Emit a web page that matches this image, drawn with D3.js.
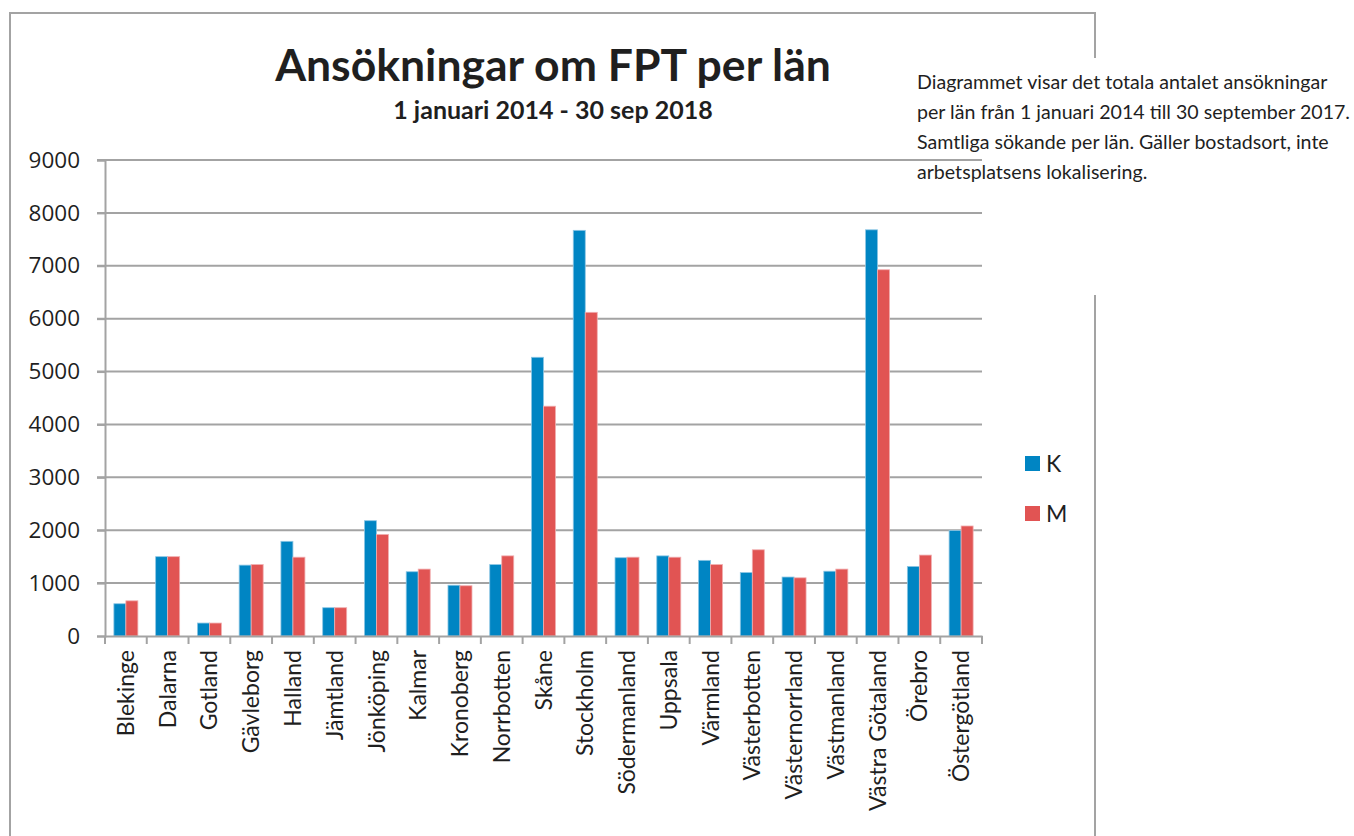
<!DOCTYPE html>
<html><head><meta charset="utf-8">
<script src="https://cdn.jsdelivr.net/npm/d3@7"></script>
<style>body{margin:0;background:#fff}svg{display:block}</style>
</head><body>
<svg id="c" width="1354" height="836"></svg>
<script>
const categories = ["Blekinge","Dalarna","Gotland","Gävleborg","Halland","Jämtland","Jönköping","Kalmar","Kronoberg","Norrbotten","Skåne","Stockholm","Södermanland","Uppsala","Värmland","Västerbotten","Västernorrland","Västmanland","Västra Götaland","Örebro","Östergötland"];
const valuesK = [610,1500,245,1340,1790,535,2180,1215,960,1350,5270,7670,1480,1515,1430,1200,1115,1225,7680,1315,1995];
const valuesM = [665,1500,245,1350,1490,535,1920,1265,950,1515,4345,6120,1490,1490,1350,1630,1100,1265,6925,1530,2080];
const seriesNames = ["K","M"];
const yTicks = [0,1000,2000,3000,4000,5000,6000,7000,8000,9000];
const colors = {K:"#0085c3", M:"#e15453"};
const title = "Ansökningar om FPT per län";
const subtitle = "1 januari 2014 - 30 sep 2018";
const noteLines = ["Diagrammet visar det totala antalet ansökningar","per län från 1 januari 2014 till 30 september 2017.","Samtliga sökande per län. Gäller bostadsort, inte","arbetsplatsens lokalisering."];

const svg = d3.select("#c");
const font = "Lato, 'Open Sans', sans-serif";
const numFont = "'Open Sans', Lato, sans-serif";
const grey = "#a3a3a3";
const ink = "#1f1f1f";

// outer border with gap on right side
svg.append("path").attr("d","M10,836 L10,13 L1095,13 L1095,58")
  .attr("fill","none").attr("stroke",grey).attr("stroke-width",2);
svg.append("line").attr("x1",1095).attr("x2",1095).attr("y1",295).attr("y2",836)
  .attr("stroke",grey).attr("stroke-width",2);

const pL = 105, pR = 982, pT = 160, pB = 636;
const x = d3.scaleBand().domain(categories).range([pL,pR]).paddingInner(0).paddingOuter(0);
const x1 = d3.scaleBand().domain(seriesNames).range([0,x.bandwidth()]).paddingInner(0).paddingOuter(0.74);
const y = d3.scaleLinear().domain([0,9000]).range([pB,pT]);

// gridlines
svg.append("g").selectAll("line").data(yTicks.filter(d=>d>0)).join("line")
  .attr("x1",pL-8).attr("x2",pR).attr("y1",d=>y(d)).attr("y2",d=>y(d))
  .attr("stroke",grey).attr("stroke-width",2);

// y axis
const yAxis = svg.append("g").attr("transform",`translate(${pL},0)`)
  .call(d3.axisLeft(y).tickValues(yTicks).tickSize(8).tickPadding(17).tickFormat(d3.format("d")));
yAxis.select(".domain").attr("stroke",grey).attr("stroke-width",2);
yAxis.selectAll(".tick line").attr("stroke",grey).attr("stroke-width",2);
yAxis.selectAll(".tick text").attr("font-family",numFont).attr("font-size",22.5).attr("fill",ink);

// bars
const data = categories.map((c,i)=>({c, vals:[{s:"K",v:valuesK[i]},{s:"M",v:valuesM[i]}]}));
const g = svg.append("g").selectAll("g").data(data).join("g")
  .attr("transform",d=>`translate(${x(d.c)},0)`);
g.selectAll("rect").data(d=>d.vals).join("rect")
  .attr("x",d=>x1(d.s)).attr("width",x1.bandwidth())
  .attr("y",d=>y(d.v)).attr("height",d=>y(0)-y(d.v))
  .attr("fill",d=>colors[d.s])
  .attr("stroke",d=>d.s==="K"?"#8cc6e4":"#f0aeb0").attr("stroke-width",0.8);

// x axis
const xAxis = svg.append("g").attr("transform",`translate(0,${pB})`)
  .call(d3.axisBottom(x).tickSize(0).tickPadding(0));
xAxis.select(".domain").attr("stroke",grey).attr("stroke-width",2);
xAxis.selectAll(".tick text").attr("font-family",font).attr("font-size",23).attr("fill",ink)
  .attr("text-anchor","end").attr("transform","rotate(-90)").attr("x",-14).attr("y",0).attr("dy","0.35em");
// boundary ticks
svg.append("g").selectAll("line").data(d3.range(categories.length+1)).join("line")
  .attr("x1",i=>pL+i*x.step()).attr("x2",i=>pL+i*x.step())
  .attr("y1",pB).attr("y2",pB+8).attr("stroke",grey).attr("stroke-width",2);

// title
svg.append("text").attr("x",553).attr("y",81).attr("text-anchor","middle")
  .attr("font-family",font).attr("font-weight","bold").attr("font-size",44.5).attr("fill",ink).text(title);
svg.append("text").attr("x",553).attr("y",119).attr("text-anchor","middle")
  .attr("font-family",font).attr("font-weight","bold").attr("font-size",25).attr("fill",ink).text(subtitle);

// legend
const leg = svg.append("g");
seriesNames.forEach((s,i)=>{
  leg.append("rect").attr("x",1025).attr("y",456+i*50).attr("width",15).attr("height",15).attr("fill",colors[s]);
  leg.append("text").attr("x",1046).attr("y",472+i*50).attr("font-family",font).attr("font-size",23).attr("fill",ink).text(s);
});

// note
svg.append("g").selectAll("text").data(noteLines).join("text")
  .attr("x",917).attr("y",(d,i)=>89+i*30)
  .attr("font-family",font).attr("font-size",19.6).attr("fill",ink).text(d=>d);
</script>
</body></html>
